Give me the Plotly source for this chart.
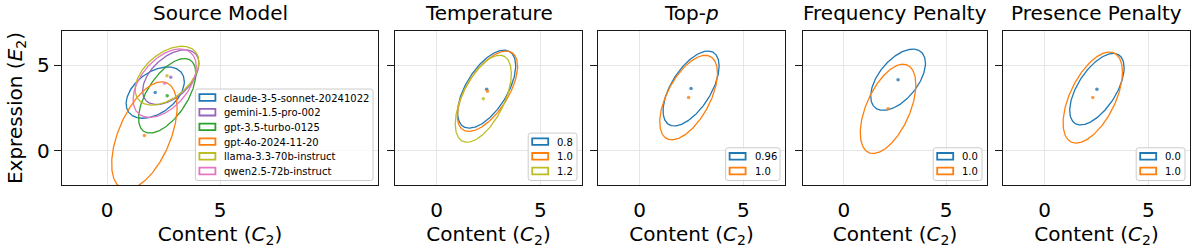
import numpy as np
import plotly.graph_objects as go

# ---------------- data ----------------
panel_titles = ["Source Model", "Temperature", "Top-<i>p</i>", "Frequency Penalty", "Presence Penalty"]

# Source model panel
src_labels = ["claude-3-5-sonnet-20241022", "gemini-1.5-pro-002", "gpt-3.5-turbo-0125",
              "gpt-4o-2024-11-20", "llama-3.3-70b-instruct", "qwen2.5-72b-instruct"]
src_cx = [2.13, 2.82, 2.66, 1.65, 2.65, 2.55]
src_cy = [3.40, 4.30, 3.21, 0.89, 4.39, 3.95]
src_sx = [1.29, 1.25, 1.27, 1.45, 1.41, 1.40]
src_sy = [1.50, 1.60, 2.18, 3.14, 1.72, 2.00]
src_rho = [0.43, 0.50, 0.60, 0.53, 0.47, 0.48]

# Temperature panel
temp_labels = ["0.8", "1.0", "1.2"]
temp_cx = [2.41, 2.45, 2.25]
temp_cy = [3.60, 3.48, 3.04]
temp_sx = [1.40, 1.45, 1.35]
temp_sy = [2.28, 2.35, 2.54]
temp_rho = [0.60, 0.62, 0.58]

# Top-p panel
topp_labels = ["0.96", "1.0"]
topp_cx = [2.48, 2.36]
topp_cy = [3.64, 3.11]
topp_sx = [1.35, 1.39]
topp_sy = [2.19, 2.47]
topp_rho = [0.60, 0.58]

# Frequency penalty panel
freq_labels = ["0.0", "1.0"]
freq_cx = [2.65, 2.16]
freq_cy = [4.15, 2.45]
freq_sx = [1.34, 1.36]
freq_sy = [1.79, 2.61]
freq_rho = [0.54, 0.54]

# Presence penalty panel
pres_labels = ["0.0", "1.0"]
pres_cx = [2.52, 2.32]
pres_cy = [3.60, 3.11]
pres_sx = [1.31, 1.43]
pres_sy = [2.09, 2.66]
pres_rho = [0.60, 0.56]

x_ticks = [0, 5]
y_ticks = [0, 5]

# ---------------- styling ----------------
C_BLUE, C_ORANGE, C_GREEN = "#1f77b4", "#ff7f0e", "#2ca02c"
C_PURPLE, C_OLIVE, C_PINK = "#9467bd", "#bcbd22", "#e377c2"
src_colors = [C_BLUE, C_PURPLE, C_GREEN, C_ORANGE, C_OLIVE, C_PINK]
temp_colors = [C_BLUE, C_ORANGE, C_OLIVE]
two_colors = [C_BLUE, C_ORANGE]

panels = [
    (src_labels, src_cx, src_cy, src_sx, src_sy, src_rho, src_colors),
    (temp_labels, temp_cx, temp_cy, temp_sx, temp_sy, temp_rho, temp_colors),
    (topp_labels, topp_cx, topp_cy, topp_sx, topp_sy, topp_rho, two_colors),
    (freq_labels, freq_cx, freq_cy, freq_sx, freq_sy, freq_rho, two_colors),
    (pres_labels, pres_cx, pres_cy, pres_sx, pres_sy, pres_rho, two_colors),
]
x_ranges = [[-2, 12], [-2, 7], [-2, 7], [-2, 7], [-2, 7]]
y_range = [-2, 7]

W, H = 1196, 248


def PX(x):  # pixel -> paper x
    return x / W


def PY(y):  # pixel -> paper y
    return 1 - y / H


px_dom = [(62, 378), (395, 582), (598, 785), (803, 987), (1003, 1190)]
top_px, bot_px = 31, 185
y_dom = [PY(bot_px), PY(top_px)]

FONT = "DejaVu Sans"
FS = 20
fig = go.Figure()
t = np.linspace(0, 2 * np.pi, 361)
shapes = []

for i, (labels, cxs, cys, sxs, sys_, rhos, cols) in enumerate(panels):
    k = "" if i == 0 else str(i + 1)
    for lab, cx, cy, sx, sy, rho, col in zip(labels, cxs, cys, sxs, sys_, rhos, cols):
        phi = np.arccos(rho)
        ex = cx + sx * np.cos(t)
        ey = cy + sy * np.cos(t - phi)
        fig.add_trace(go.Scatter(
            x=ex, y=ey, mode="lines", line=dict(color=col, width=1.3), name=lab,
            showlegend=False, xaxis="x" + k, yaxis="y" + k, hoverinfo="skip"))
        fig.add_trace(go.Scatter(
            x=[cx], y=[cy], mode="markers", marker=dict(color=col, size=3.5, opacity=0.8),
            showlegend=False, xaxis="x" + k, yaxis="y" + k, hoverinfo="skip"))

    x0, x1 = px_dom[i]
    axis_common = dict(showline=True, mirror=True, linecolor="#1a1a1a", linewidth=1.3,
                       showgrid=True, gridcolor="#e6e6e6", gridwidth=1, zeroline=False,
                       tickfont=dict(family=FONT, size=FS, color="#000"))
    fig.layout["xaxis" + k] = dict(
        domain=[PX(x0), PX(x1)], range=x_ranges[i], tickvals=x_ticks,
        ticks="outside", ticklen=7, tickcolor="rgba(0,0,0,0)",
        anchor="y" + k,
        title=dict(text="Content (<i>C</i><sub>2</sub>)", font=dict(family=FONT, size=FS, color="#000"),
                   standoff=2),
        **axis_common)
    ycfg = dict(
        domain=y_dom, range=y_range, tickvals=y_ticks,
        ticks="outside", ticklen=7, tickwidth=1.1, tickcolor="#1a1a1a",
        showticklabels=(i == 0), anchor="x" + k, **axis_common)
    if i == 0:
        ycfg["title"] = dict(text="Expression (<i>E</i><sub>2</sub>)",
                             font=dict(family=FONT, size=FS, color="#000"), standoff=9)
    fig.layout["yaxis" + k] = ycfg

    fig.add_annotation(text=panel_titles[i], x=PX((x0 + x1) / 2), y=PY(13),
                       xref="paper", yref="paper", xanchor="center", yanchor="middle",
                       showarrow=False, font=dict(family=FONT, size=FS, color="#000"))

    # ---- matplotlib-style legend (lower right inside the panel) ----
    n = len(labels)
    step = 14.7
    text_w = max(len(s) for s in labels) * 5.6
    bx1 = x1 - 5
    bx0 = bx1 - (27 + text_w + 5)
    by1 = bot_px - 4.5
    by0 = by1 - (8.5 + (n - 1) * step + 9.5)
    r = 2.5
    path = (f"M {PX(bx0 + r)},{PY(by0)} L {PX(bx1 - r)},{PY(by0)} "
            f"Q {PX(bx1)},{PY(by0)} {PX(bx1)},{PY(by0 + r)} "
            f"L {PX(bx1)},{PY(by1 - r)} Q {PX(bx1)},{PY(by1)} {PX(bx1 - r)},{PY(by1)} "
            f"L {PX(bx0 + r)},{PY(by1)} Q {PX(bx0)},{PY(by1)} {PX(bx0)},{PY(by1 - r)} "
            f"L {PX(bx0)},{PY(by0 + r)} Q {PX(bx0)},{PY(by0)} {PX(bx0 + r)},{PY(by0)} Z")
    shapes.append(dict(type="path", path=path, xref="paper", yref="paper",
                       fillcolor="rgba(255,255,255,0.8)", line=dict(color="#cccccc", width=1)))
    for j, (lab, col) in enumerate(zip(labels, cols)):
        cyp = by0 + 8.5 + j * step
        shapes.append(dict(type="rect", xref="paper", yref="paper",
                           x0=PX(bx0 + 4), x1=PX(bx0 + 20), y0=PY(cyp - 3.3), y1=PY(cyp + 3.3),
                           line=dict(color=col, width=1.8), fillcolor="rgba(0,0,0,0)"))
        fig.add_annotation(text=lab, x=PX(bx0 + 27), y=PY(cyp + 0.5), xref="paper", yref="paper",
                           xanchor="left", yanchor="middle", showarrow=False,
                           font=dict(family=FONT, size=10, color="#000"))

fig.update_layout(width=W, height=H, margin=dict(l=0, r=0, t=0, b=0),
                  paper_bgcolor="white", plot_bgcolor="white", showlegend=False,
                  shapes=shapes, font=dict(family=FONT, color="#000"))
fig.write_html("out.html", config={"displayModeBar": False},
               post_script="document.body.style.margin='0px';document.body.style.overflow='hidden';")
